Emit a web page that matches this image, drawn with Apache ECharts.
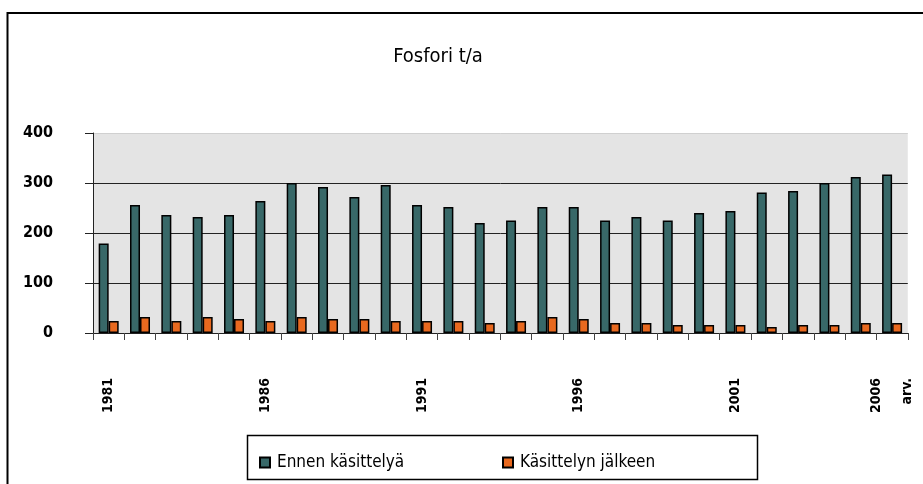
<!DOCTYPE html>
<html>
<head>
<meta charset="utf-8">
<script src="https://cdn.jsdelivr.net/npm/echarts@6/dist/echarts.min.js"></script>
<style>
html,body{margin:0;padding:0;background:#fff;}
#c{width:923px;height:484px;}
</style>
</head>
<body>
<div id="c"></div>
<script>
var categories = ['1981','1982','1983','1984','1985','1986','1987','1988','1989','1990','1991','1992','1993','1994','1995','1996','1997','1998','1999','2000','2001','2002','2003','2004','2005','2006\narv.'];
var ennen = [179,256,236,232,236,264,300,292,272,296,256,252,220,225,252,252,225,232,225,240,244,281,284,300,312,317];
var jalkeen = [24,32,24,32,28,24,32,28,28,24,24,24,20,24,32,28,20,20,16,16,16,12,16,16,20,20];
var yTicks = [0,100,200,300,400];

var FONT = '"DejaVu Sans", sans-serif';
var COND = 'condensed';
var chart = echarts.init(document.getElementById('c'));
chart.setOption({
  animation:false,
  backgroundColor:'#fff',
  title:{
    text:'Fosfori t/a',
    left:433, top:42, textAlign:'center',
    textStyle:{fontFamily:FONT,fontStyle:COND,fontSize:20,fontWeight:'normal',color:'#000'}
  },
  grid:{left:93,right:10,top:133,bottom:151,show:true,backgroundColor:'#E4E4E4',borderWidth:0},
  legend:[
    {data:['Ennen käsittelyä'],left:254,top:449,icon:'rect',itemWidth:10,itemHeight:10,itemGap:10,
     textStyle:{fontFamily:FONT,fontStyle:COND,fontSize:17,color:'#000',padding:[0,0,0,2]}},
    {data:['Käsittelyn jälkeen'],left:497,top:449,icon:'rect',itemWidth:10,itemHeight:10,itemGap:10,
     textStyle:{fontFamily:FONT,fontStyle:COND,fontSize:17,color:'#000',padding:[0,0,0,2]}}
  ],
  xAxis:{
    type:'category',
    data:categories,
    boundaryGap:true,
    axisLine:{lineStyle:{color:'#222',width:1}},
    axisTick:{show:true,interval:0,length:7,lineStyle:{color:'#444'}},
    axisLabel:{interval:4,rotate:90,margin:45,fontFamily:FONT,fontStyle:COND,fontSize:14,fontWeight:'bold',color:'#000',lineHeight:31}
  },
  yAxis:{
    type:'value',min:0,max:400,interval:100,
    axisLine:{show:true,lineStyle:{color:'#222',width:1}},
    axisTick:{show:true,length:8,lineStyle:{color:'#222'}},
    axisLabel:{margin:40,fontFamily:FONT,fontStyle:COND,fontSize:16,fontWeight:'bold',color:'#000',
      formatter:function(v){return yTicks.indexOf(v)>=0?String(v):'';}},
    splitLine:{show:true,lineStyle:{color:['#222','#222','#222','#222','#d0d0d0'],width:1}}
  },
  series:[
    {name:'Ennen käsittelyä',type:'bar',data:ennen,barWidth:10,barGap:'0%',
     itemStyle:{color:'#386868',borderColor:'#000',borderWidth:1.5}},
    {name:'Käsittelyn jälkeen',type:'bar',data:jalkeen,barWidth:10,barGap:'0%',
     itemStyle:{color:'#E8691F',borderColor:'#000',borderWidth:1.5}}
  ],
  graphic:[
    {type:'rect',shape:{x:7.5,y:13,width:930,height:480},style:{fill:null,stroke:'#000',lineWidth:2},silent:true,z:-1},
    {type:'rect',shape:{x:247.5,y:435.5,width:510,height:44},style:{fill:'#fff',stroke:'#000',lineWidth:1.5},silent:true,z:-1}
  ]
});
</script>
</body>
</html>
